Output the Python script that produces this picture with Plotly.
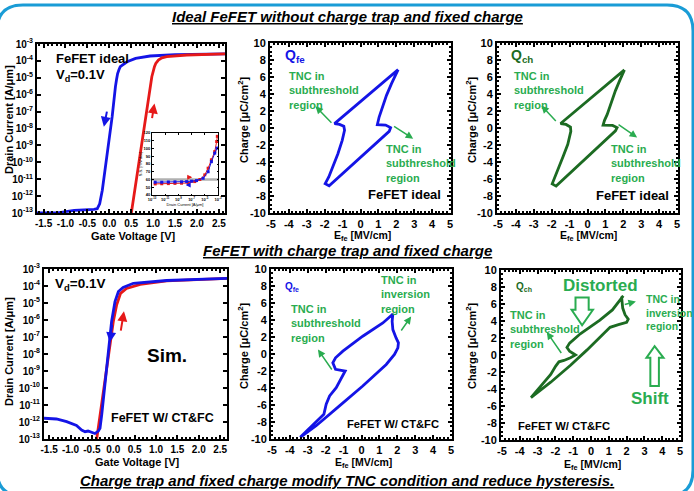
import plotly.graph_objects as go

W, H = 694, 491
FONT = "Liberation Sans, Arial, sans-serif"
BLUE = "#1414e6"
RED = "#e61919"
DGREEN = "#1c6b22"
LGREEN = "#2aac50"
BORDER = "#1a9cd6"

# ---------------- Data ----------------
# Panel 1: ideal FeFET, Id-Vg (Vd = 0.1 V)
ideal_bwd_vg = [2.64, 1.5, 0.93, 0.6, 0.405, 0.3, 0.25, 0.22, 0.19, 0.165, 0.14, 0.065, -0.05, -0.16, -0.22,
                -0.275, -0.35, -0.8, -1.18, -1.65]
ideal_bwd_id = [2.57e-4, 2.34e-4, 1.95e-4, 1.4e-4, 8.9e-5, 6.0e-5, 4.6e-5, 3.0e-5, 1.8e-5, 8.0e-6, 3.0e-6, 5.0e-8,
                2.1e-10, 2.2e-12, 3.5e-13, 1.8e-13, 1.66e-13, 1.45e-13, 1.03e-13, 1.0e-13]
ideal_fwd_vg = [0.5, 0.56, 0.67, 0.78, 0.9, 0.97, 1.03, 1.06, 1.12, 1.2, 1.31, 1.77, 2.64]
ideal_fwd_id = [8.9e-14, 8.9e-13, 8.5e-11, 7.9e-9, 7.6e-7, 1.15e-5, 4.6e-5, 7.0e-5, 1.12e-4, 1.5e-4, 1.78e-4,
                2.24e-4, 2.57e-4]

# Inset: S.S. vs drain current
inset_bwd_id = [3e-13, 3e-12, 3e-11, 3e-10, 3e-9, 1.8e-8, 1e-7, 5.6e-7, 5.6e-6, 3.2e-5, 1e-4, 3.2e-4, 7e-4]
inset_bwd_ss = [56.5, 56.5, 56.8, 57.0, 57.0, 57.3, 57.8, 58.6, 61.6, 70.0, 83.0, 94.0, 100.5]
inset_fwd_id = [3e-13, 3e-12, 3e-11, 3e-10, 3e-9, 3e-8, 3e-7, 1.8e-6, 1e-5, 3.2e-5, 1e-4, 3.2e-4, 6.3e-4, 7.9e-4]
inset_fwd_ss = [54.3, 54.5, 54.7, 55.0, 55.2, 55.5, 57.3, 60.0, 66.0, 74.6, 85.4, 96.0, 109.0, 115.7]
inset_ref_id = [1e-13, 1e-3]
inset_ref_ss = [60, 60]

# Panel 2: ideal Q_fe loop
ideal_qfe_e = [2.1, -1.45, -1.17, -0.93, -0.89, -1.02, -1.26, -1.54, -1.77, -1.97, -1.75, 1.6, 1.68, 1.4, 0.94,
               1.04, 1.22, 1.45, 1.73, 2.1]
ideal_qfe_q = [6.86, 0.51, 0.43, 0.2, -0.27, -1.45, -3.02, -4.59, -5.76, -6.55, -6.8, -0.4, 0.05, 0.35, 0.39,
               1.29, 2.47, 3.84, 5.22, 6.86]

# Panel 3: ideal Q_ch loop
ideal_qch_e = [2.06, -1.5, -1.2, -0.95, -0.93, -1.1, -1.35, -1.6, -1.8, -1.97, -1.75, 1.56, 1.65, 1.4, 0.87,
               0.95, 1.1, 1.3, 1.56, 1.8, 2.06]
ideal_qch_q = [6.84, 0.53, 0.42, 0.1, -0.4, -1.91, -3.3, -4.67, -5.7, -6.57, -6.84, -0.33, 0.05, 0.3, 0.33,
               0.9, 1.6, 2.9, 4.4, 5.6, 6.84]

# Panel 4: FeFET with CT & FC, Id-Vg (Vd = 0.1 V)
ctfc_bwd_vg = [2.66, 1.25, 0.47, 0.23, 0.12, 0.04, -0.04, -0.12, -0.195, -0.27, -0.31, -0.35, -0.43, -0.51, -0.59,
               -0.66, -0.74, -0.86, -1.09, -1.33, -1.62]
ctfc_bwd_id = [2.8e-4, 2.1e-4, 1.45e-4, 8.3e-5, 4.7e-5, 1.2e-5, 7.9e-7, 8.7e-9, 1e-10, 2.6e-12, 4.3e-13, 2.95e-13,
               2.1e-13, 2.5e-13, 2.95e-13, 2.7e-13, 3.4e-13, 6.3e-13, 1.05e-12, 1.5e-12, 1.66e-12]
ctfc_fwd_vg = [-0.39, -0.31, -0.22, -0.12, 0.0, 0.08, 0.17, 0.31, 0.63, 1.25, 2.66]
ctfc_fwd_id = [8.9e-14, 2.5e-12, 1e-10, 8.7e-9, 7.9e-7, 7.9e-6, 3.7e-5, 7.2e-5, 1.26e-4, 2.0e-4, 2.8e-4]

# Panel 5: CT & FC Q_fe loop
ctfc_qfe_e = [-3.42, -2.53, -2.1, -1.97, -1.78, -1.41, -1.04, -0.91, -1.45, -1.6, -1.45, -1.04, 0.07, 1.19, 1.71,
              1.75, 1.71, 1.75, 1.93, 2.06, 2.03, 1.84, 1.38, 0.07, -1.23, -2.53, -3.42]
ctfc_qfe_q = [-9.8, -8.05, -7.1, -5.9, -4.93, -3.96, -2.6, -2.0, -1.8, -1.03, -0.45, 0.33, 2.09, 3.65, 4.62,
              4.72, 3.84, 2.87, 1.89, 1.31, 0.72, -0.06, -1.23, -3.76, -6.1, -8.44, -9.8]

# Panel 6: CT & FC Q_ch loop
ctfc_qch_e = [-3.37, -2.81, -2.26, -1.98, -1.8, -1.52, -1.15, -0.87, -1.2, -1.35, -1.2, -0.6, 0.5, 1.2, 1.81,
              1.72, 1.78, 1.91, 2.09, 2.0, 1.54, 1.07, -0.22, -1.15, -2.26, -3.37]
ctfc_qch_q = [-5.01, -3.65, -2.28, -1.3, -0.8, -0.64, -0.33, 0.0, 0.45, 0.9, 1.4, 2.5, 4.1, 5.3, 6.96,
              6.76, 5.52, 4.74, 4.23, 3.84, 3.57, 3.26, 0.6, -1.2, -3.2, -5.01]

log_ticks = [1e-3, 1e-4, 1e-5, 1e-6, 1e-7, 1e-8, 1e-9, 1e-10, 1e-11, 1e-12, 1e-13]
log_ticktext = ["10<sup>-%d</sup>" % k for k in range(3, 14)]
vg_ticks = [-1.5, -1.0, -0.5, 0.0, 0.5, 1.0, 1.5, 2.0, 2.5]
vg_ticktext = ["%.1f" % v for v in vg_ticks]
e_ticks = [-5, -4, -3, -2, -1, 0, 1, 2, 3, 4, 5]
e_ticktext = [str(v) for v in e_ticks]
q_ticks = [-10, -8, -6, -4, -2, 0, 2, 4, 6, 8, 10]
q_ticktext = [str(v) for v in q_ticks]
inset_xticks = [1e-13, 1e-11, 1e-9, 1e-7, 1e-5, 1e-3]
inset_xticktext = ["10<sup>-13</sup>", "10<sup>-11</sup>", "10<sup>-9</sup>", "10<sup>-7</sup>", "10<sup>-5</sup>",
                   "10<sup>-3</sup>"]
inset_yticks = [40, 50, 60, 70, 80, 90, 100, 110, 120]

# ---------------- Helpers ----------------
def px(x):
    return x / W

def py(y):
    return 1 - y / H

fig = go.Figure()

def line_trace(x, y, color, ax, width=2.8):
    fig.add_trace(go.Scatter(x=x, y=y, mode="lines", line=dict(color=color, width=width),
                             xaxis=ax[0], yaxis=ax[1], showlegend=False, hoverinfo="skip"))

line_trace(ideal_bwd_vg, ideal_bwd_id, BLUE, ("x", "y"))
line_trace(ideal_fwd_vg, ideal_fwd_id, RED, ("x", "y"))
line_trace(ideal_qfe_e, ideal_qfe_q, BLUE, ("x2", "y2"))
line_trace(ideal_qch_e, ideal_qch_q, DGREEN, ("x3", "y3"))
line_trace(ctfc_fwd_vg, ctfc_fwd_id, RED, ("x4", "y4"))
line_trace(ctfc_bwd_vg, ctfc_bwd_id, BLUE, ("x4", "y4"))
line_trace(ctfc_qfe_e, ctfc_qfe_q, BLUE, ("x5", "y5"))
line_trace(ctfc_qch_e, ctfc_qch_q, DGREEN, ("x6", "y6"))

# inset
fig.add_trace(go.Scatter(x=inset_ref_id, y=inset_ref_ss, mode="lines", line=dict(color="#b0b0b0", width=2.5),
                         xaxis="x7", yaxis="y7", showlegend=False, hoverinfo="skip"))
fig.add_trace(go.Scatter(x=inset_fwd_id, y=inset_fwd_ss, mode="lines+markers",
                         line=dict(color=RED, width=1), marker=dict(symbol="square", size=3, color=RED),
                         xaxis="x7", yaxis="y7", showlegend=False, hoverinfo="skip"))
fig.add_trace(go.Scatter(x=inset_bwd_id, y=inset_bwd_ss, mode="lines+markers",
                         line=dict(color=BLUE, width=1), marker=dict(symbol="square", size=3, color=BLUE),
                         xaxis="x7", yaxis="y7", showlegend=False, hoverinfo="skip"))

# ---------------- Axes ----------------
def axis_base(size=11, lw=2):
    return dict(showline=True, linecolor="black", linewidth=lw, mirror="allticks", ticks="inside",
                ticklen=4, tickwidth=1.5, tickcolor="black", showgrid=False, zeroline=False, automargin=False,
                tickfont=dict(family=FONT, size=size, color="black", weight="bold"))

def vg_axis(domain, anchor, rng):
    d = axis_base(10)
    d.update(domain=domain, anchor=anchor, range=rng, tickvals=vg_ticks, ticktext=vg_ticktext,
             minor=dict(ticks="inside", ticklen=2, tickcolor="black", dtick=0.1))
    return d

def id_axis(domain, anchor):
    d = axis_base(10)
    d.update(domain=domain, anchor=anchor, type="log", range=[-13, -3], tickvals=log_ticks, ticktext=log_ticktext)
    return d

def e_axis(domain, anchor):
    d = axis_base(11)
    d.update(domain=domain, anchor=anchor, range=[-5.05, 5.05], tickvals=e_ticks, ticktext=e_ticktext,
             minor=dict(ticks="inside", ticklen=2, tickcolor="black", dtick=0.2))
    return d

def q_axis(domain, anchor):
    d = axis_base(11)
    d.update(domain=domain, anchor=anchor, range=[-10, 10], tickvals=q_ticks, ticktext=q_ticktext,
             minor=dict(ticks="inside", ticklen=2, tickcolor="black", dtick=0.5))
    return d

P1 = ([px(37), px(225)], [py(213), py(44)])
P2 = ([px(270), px(451)], [py(213), py(43)])
P3 = ([px(497), px(678)], [py(213), py(43)])
P4 = ([px(44), px(227)], [py(439), py(269)])
P5 = ([px(271), px(452)], [py(439), py(269)])
P6 = ([px(501), px(681)], [py(440), py(270)])
P7 = ([px(152), px(218)], [py(195), py(133)])

inset_x = axis_base(4, 1)
inset_x.update(domain=P7[0], anchor="y7", type="log", range=[-13, -3], tickvals=inset_xticks,
               ticktext=inset_xticktext, ticklen=1.5, tickwidth=0.6,
               title=dict(text="Drain Current [A/μm]", font=dict(family=FONT, size=4, color="black"), standoff=1))
inset_y = axis_base(4, 1)
inset_y.update(domain=P7[1], anchor="x7", range=[40, 120], tickvals=inset_yticks, ticklen=1.5, tickwidth=0.6,
               title=dict(text="S.S. [mV/dec]", font=dict(family=FONT, size=4, color="black"), standoff=1))

fig.update_layout(
    width=W, height=H, margin=dict(l=0, r=0, t=0, b=0, pad=0, autoexpand=False),
    paper_bgcolor="white", plot_bgcolor="white", showlegend=False,
    font=dict(family=FONT, color="black"),
    xaxis=vg_axis(P1[0], "y", [-1.65, 2.64]), yaxis=id_axis(P1[1], "x"),
    xaxis2=e_axis(P2[0], "y2"), yaxis2=q_axis(P2[1], "x2"),
    xaxis3=e_axis(P3[0], "y3"), yaxis3=q_axis(P3[1], "x3"),
    xaxis4=vg_axis(P4[0], "y4", [-1.62, 2.66]), yaxis4=id_axis(P4[1], "x4"),
    xaxis5=e_axis(P5[0], "y5"), yaxis5=q_axis(P5[1], "x5"),
    xaxis6=e_axis(P6[0], "y6"), yaxis6=q_axis(P6[1], "x6"),
    xaxis7=inset_x, yaxis7=inset_y,
)

# ---------------- Annotations ----------------
ann = []

def text(t, x, y, xref, yref, size, color="black", xanchor="left", yanchor="middle", bold=True, italic=False,
         angle=0, align="left"):
    s = t
    if bold:
        s = "<b>" + s + "</b>"
    if italic:
        s = "<i>" + s + "</i>"
    ann.append(dict(text=s, x=x, y=y, xref=xref, yref=yref, showarrow=False, xanchor=xanchor, yanchor=yanchor,
                    align=align, textangle=angle, font=dict(family=FONT, size=size, color=color)))

def arrow(x, y, ax_, ay_, xref, yref, color, width=1.5):
    ann.append(dict(text="", x=x, y=y, ax=ax_, ay=ay_, xref=xref, yref=yref, axref=xref, ayref=yref,
                    showarrow=True, arrowhead=2, arrowsize=1, arrowwidth=width, arrowcolor=color))

# section titles
text("<u>Ideal FeFET without charge trap and fixed charge</u>", 0.5, py(17), "paper", "paper", 15, italic=True,
     xanchor="center")
text("<u>FeFET with charge trap and fixed charge</u>", 0.5, py(250), "paper", "paper", 15, italic=True,
     xanchor="center")
text("<u>Charge trap and fixed charge modify TNC condition and reduce hysteresis.</u>", 0.5, py(480), "paper",
     "paper", 15, italic=True, xanchor="center")

# axis titles
for (xx, yy) in [(9, 120), (9, 352)]:
    text("Drain Current [A/μm]", px(xx), py(yy), "paper", "paper", 11, angle=-90, xanchor="center",
         yanchor="middle")
for (xx, yy) in [(243, 120), (471, 120), (243, 346), (471, 346)]:
    text("Charge [μC/cm<sup>2</sup>]", px(xx), py(yy), "paper", "paper", 11, angle=-90, xanchor="center",
         yanchor="middle")
for (xx, yy) in [(133, 236), (137, 462)]:
    text("Gate Voltage [V]", px(xx), py(yy), "paper", "paper", 11, xanchor="center")
for (xx, yy) in [(362, 236), (588, 236), (363, 463), (592, 465)]:
    text("E<sub>fe</sub> [MV/cm]", px(xx), py(yy), "paper", "paper", 10.5, xanchor="center")

# panel 1
text("FeFET ideal", -1.26, -3.85, "x", "y", 13)
text("V<sub>d</sub>=0.1V", -1.26, -4.84, "x", "y", 13)
arrow(-0.124, -7.9, -0.048, -6.91, "x", "y", BLUE, 2)
arrow(1.03, -6.52, 0.97, -7.47, "x", "y", RED, 2)
arrow(-6.9, 63, -7.9, 63, "x7", "y7", RED, 1)
arrow(-7.9, 53, -7.2, 53, "x7", "y7", BLUE, 1)

# panel 2
text("Q<sub>fe</sub>", -4.35, 8.43, "x2", "y2", 14, BLUE)
text("TNC in<br>subthreshold<br>region", -4.12, 4.43, "x2", "y2", 11, LGREEN)
text("TNC in<br>subthreshold<br>region", 1.32, -4.2, "x2", "y2", 11, LGREEN)
text("FeFET ideal", 4.63, -7.84, "x2", "y2", 13, xanchor="right")
arrow(-2.51, 2.55, -1.54, 0.43, "x2", "y2", LGREEN)
arrow(2.94, -1.25, 1.79, 0.31, "x2", "y2", LGREEN)

# panel 3
text("Q<sub>ch</sub>", -4.39, 8.42, "x3", "y3", 14, DGREEN)
text("TNC in<br>subthreshold<br>region", -4.24, 4.4, "x3", "y3", 11, LGREEN)
text("TNC in<br>subthreshold<br>region", 1.19, -4.2, "x3", "y3", 11, LGREEN)
text("FeFET ideal", 4.67, -7.95, "x3", "y3", 13, xanchor="right")
arrow(-2.57, 2.63, -1.69, 0.65, "x3", "y3", LGREEN)
arrow(2.77, -1.12, 1.65, 0.53, "x3", "y3", LGREEN)

# panel 4
text("V<sub>d</sub>=0.1V", -1.41, -3.9, "x4", "y4", 13.5)
text("Sim.", 1.25, -8.06, "x4", "y4", 19, xanchor="center")
text("FeFET W/ CT&amp;FC", 2.41, -11.78, "x4", "y4", 12.5, xanchor="right")
arrow(-0.08, -7.31, -0.02, -6.2, "x4", "y4", BLUE, 2)
arrow(0.25, -5.49, 0.17, -6.71, "x4", "y4", RED, 2)

# panel 5
text("Q<sub>fe</sub>", -4.39, 7.86, "x5", "y5", 10, BLUE)
text("TNC in<br>subthreshold<br>region", -4.05, 3.53, "x5", "y5", 11, LGREEN)
text("TNC in<br>inversion<br>region", 0.97, 7.04, "x5", "y5", 11, LGREEN)
text("FeFET W/ CT&amp;FC", 4.44, -8.25, "x5", "y5", 11.2, xanchor="right")
arrow(-2.43, 0.53, -1.6, -2.0, "x5", "y5", LGREEN)
arrow(2.77, 4.42, 2.16, 2.59, "x5", "y5", LGREEN)

# panel 6
text("Q<sub>ch</sub>", -4.33, 8.05, "x6", "y6", 10, DGREEN)
text("Distorted", 0.52, 8.17, "x6", "y6", 17, LGREEN, xanchor="center")
text("TNC in<br>subthreshold<br>region", -4.67, 2.98, "x6", "y6", 11, LGREEN)
text("TNC in<br>inversion<br>region", 2.96, 5.05, "x6", "y6", 10.5, LGREEN)
text("Shift", 3.3, -5.09, "x6", "y6", 17, LGREEN, xanchor="center")
text("FeFET W/ CT&amp;FC", -4.2, -8.32, "x6", "y6", 11.2)
arrow(-2.48, 2.71, -1.61, 0.06, "x6", "y6", LGREEN)
arrow(2.52, 6.29, 1.81, 5.9, "x6", "y6", LGREEN)

fig.update_layout(annotations=ann)

# ---------------- Shapes ----------------
L, R, T, B, r = -3, 693, 5, 496, 26
border = ("M {a},{b} L {c},{b} Q {R},{b} {R},{d} L {R},{e} Q {R},{B} {c},{B} L {a},{B} Q {L},{B} {L},{e} "
          "L {L},{d} Q {L},{b} {a},{b} Z").format(
    a=px(L + r), b=py(T), c=px(R - r), R=px(R), d=py(T + r), e=py(B - r), B=py(B), L=px(L))
shapes = [dict(type="path", path=border, xref="paper", yref="paper", line=dict(color=BORDER, width=3),
               fillcolor="rgba(0,0,0,0)", layer="below")]

down_arrow = "M -0.87,6.76 L -0.13,6.76 L -0.13,5.32 L 0.11,5.32 L -0.5,3.49 L -1.09,5.32 L -0.87,5.32 Z"
up_arrow = "M 3.33,-3.65 L 3.81,-3.65 L 3.81,-0.33 L 4.07,-0.33 L 3.57,1.03 L 3.11,-0.33 L 3.33,-0.33 Z"
for p in (down_arrow, up_arrow):
    shapes.append(dict(type="path", path=p, xref="x6", yref="y6", line=dict(color=LGREEN, width=2),
                       fillcolor="white", layer="above"))

fig.update_layout(shapes=shapes)

# remove the default 8px page margin so the figure sits at the window's top-left corner
fig.write_html("out.html", config={"displayModeBar": False},
               post_script="document.body.style.margin='0px';")
